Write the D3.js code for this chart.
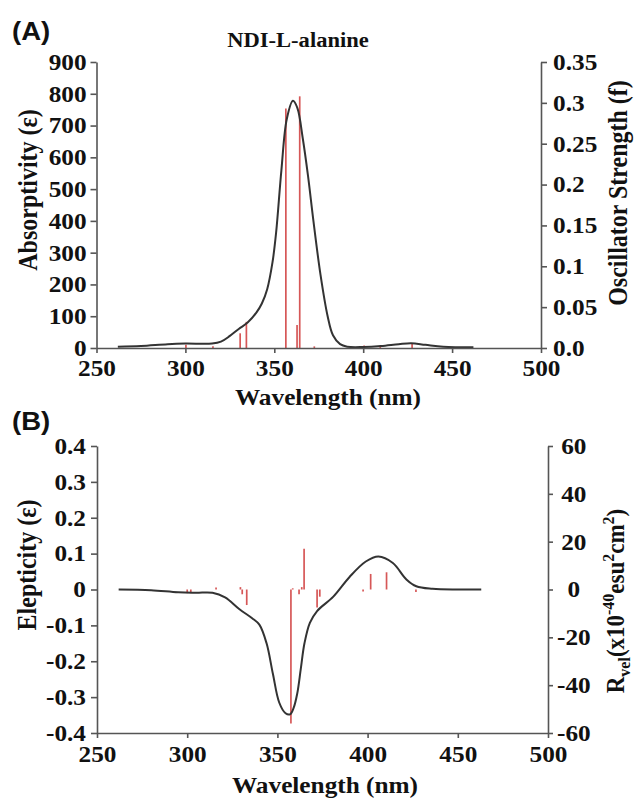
<html>
<head>
<style>
  body { margin: 0; background: #fff; }
  svg { display: block; }
  .lbl { font-family: "Liberation Serif", "Times New Roman", serif; font-weight: bold; fill: #111; }
</style>
<script src="https://cdnjs.cloudflare.com/ajax/libs/d3/7.8.5/d3.min.js"></script>
</head>
<body>
<script>
// ---- data ----
// (A) absorption spectrum, wavelength (nm) vs absorptivity
var absWl  = [262, 275, 290, 300, 315, 320, 325, 330, 335, 340, 343, 346, 349, 351, 354, 357, 360.5, 363, 366, 369, 372, 376, 380, 383, 387, 391, 400, 410, 420, 427, 435, 445, 462];
var absEps = [4, 6, 12, 14, 14, 20, 38, 60, 80, 112, 140, 185, 270, 362, 560, 720, 778, 755, 660, 540, 400, 230, 100, 40, 12, 4, 3, 6, 12, 15, 10, 4, 2];
// oscillator strengths (sticks)
var oscWl = [300.3, 315.5, 330.8, 334.3, 356.5, 362.8, 364.3, 372.5, 398.5, 400.5, 409.6, 427.5];
var oscF  = [0.004, 0.002, 0.018, 0.032, 0.293, 0.028, 0.308, 0.002, 0.002, 0.003, 0.003, 0.006];

// (B) CD spectrum, wavelength vs elepticity
var cdWl  = [262, 280, 295, 305, 314, 321, 329, 336, 340, 344, 347.5, 351, 354.5, 357, 359, 361, 363, 365, 368, 372, 381, 390, 399, 406, 414, 421.5, 427, 436, 450, 463];
var cdEps = [0, -0.002, -0.008, -0.009, -0.009, -0.022, -0.055, -0.08, -0.098, -0.15, -0.235, -0.315, -0.345, -0.348, -0.33, -0.29, -0.22, -0.15, -0.093, -0.06, -0.02, 0.035, 0.078, 0.092, 0.074, 0.028, 0.009, 0.002, 0, 0];
// rotatory strengths (sticks)
var rotWl = [300, 302, 316, 329.5, 330.5, 333, 357.5, 358.5, 362, 363.5, 364.8, 372, 373.5, 397.5, 401.7, 410.5, 426.8];
var rotR  = [-1.5, -1.5, 0.8, 1, -2, -6.5, -56, 0.5, -2, 1, 17, -7.5, -3, -0.8, 6.5, 7.2, -1];

// ticks
var wlTicks = [250, 300, 350, 400, 450, 500];
var absTicks = [0, 100, 200, 300, 400, 500, 600, 700, 800, 900];
var oscTicks = [0, 0.05, 0.1, 0.15, 0.2, 0.25, 0.3, 0.35];
var oscTickLabels = ["0.0", "0.05", "0.1", "0.15", "0.2", "0.25", "0.3", "0.35"];
var cdTicks = [-0.4, -0.3, -0.2, -0.1, 0, 0.1, 0.2, 0.3, 0.4];
var cdTickLabels = ["-0.4", "-0.3", "-0.2", "-0.1", "0", "0.1", "0.2", "0.3", "0.4"];
var rotTicks = [-60, -40, -20, 0, 20, 40, 60];
var rotTickLabels = ["-60", "-40", "-20", "0", "20", "40", "60"];

var width = 634, height = 798;
var sx = 1.1; // the picture is a bit stretched sideways
var serif = "'Liberation Serif', 'Times New Roman', serif";

var svg = d3.select("body").append("svg")
    .attr("width", width)
    .attr("height", height);

var lineColor = "#333", stickColor = "#cf3a3a";

// ================= panel A =================
var xA = d3.scaleLinear().domain([250, 500]).range([96.5, 541]);
var yA = d3.scaleLinear().domain([0, 900]).range([348, 62]);
var yA2 = d3.scaleLinear().domain([0, 0.35]).range([348, 62]);

var gA = svg.append("g");

gA.selectAll("line.stick")
    .data(oscWl)
    .enter().append("line")
    .attr("class", "stick")
    .attr("x1", d => xA(d)).attr("x2", d => xA(d))
    .attr("y1", yA2(0))
    .attr("y2", (d, i) => yA2(oscF[i]))
    .attr("stroke", stickColor)
    .attr("stroke-opacity", 0.85)
    .attr("stroke-width", 1.7);

var lineA = d3.line()
    .x((d, i) => xA(absWl[i]))
    .y(d => yA(d))
    .curve(d3.curveCatmullRom.alpha(0.5));

gA.append("path")
    .datum(absEps)
    .attr("d", lineA)
    .attr("fill", "none")
    .attr("stroke", lineColor)
    .attr("stroke-width", 2);

gA.append("g")
    .attr("transform", "translate(0," + yA(0) + ")")
    .call(d3.axisBottom(xA).tickValues(wlTicks).tickFormat(d3.format("d")).tickSize(5).tickSizeOuter(0).tickPadding(7));
gA.append("g")
    .attr("transform", "translate(" + xA(250) + ",0)")
    .call(d3.axisLeft(yA).tickValues(absTicks).tickFormat(d3.format("d")).tickSize(6).tickSizeOuter(0).tickPadding(3));
gA.append("g")
    .attr("transform", "translate(" + xA(500) + ",0)")
    .call(d3.axisRight(yA2).tickValues(oscTicks).tickFormat((d, i) => oscTickLabels[i]).tickSize(6).tickSizeOuter(0).tickPadding(5));

// ================= panel B =================
var xB = d3.scaleLinear().domain([250, 500]).range([97, 548]);
var yB = d3.scaleLinear().domain([-0.4, 0.4]).range([733, 446]);
var yB2 = d3.scaleLinear().domain([-60, 60]).range([733, 446]);

var gB = svg.append("g");

gB.selectAll("line.stick")
    .data(rotWl)
    .enter().append("line")
    .attr("class", "stick")
    .attr("x1", d => xB(d)).attr("x2", d => xB(d))
    .attr("y1", yB2(0))
    .attr("y2", (d, i) => yB2(rotR[i]))
    .attr("stroke", stickColor)
    .attr("stroke-opacity", 0.85)
    .attr("stroke-width", 1.7);

var lineB = d3.line()
    .x((d, i) => xB(cdWl[i]))
    .y(d => yB(d))
    .curve(d3.curveCatmullRom.alpha(0.5));

gB.append("path")
    .datum(cdEps)
    .attr("d", lineB)
    .attr("fill", "none")
    .attr("stroke", lineColor)
    .attr("stroke-width", 2);

gB.append("g")
    .attr("transform", "translate(0," + yB(-0.4) + ")")
    .call(d3.axisBottom(xB).tickValues(wlTicks).tickFormat(d3.format("d")).tickSize(5).tickSizeOuter(0).tickPadding(8));
gB.append("g")
    .attr("transform", "translate(" + xB(250) + ",0)")
    .call(d3.axisLeft(yB).tickValues(cdTicks).tickFormat((d, i) => cdTickLabels[i]).tickSize(6).tickSizeOuter(0).tickPadding(4));
var rB = gB.append("g")
    .attr("transform", "translate(" + xB(500) + ",0)")
    .call(d3.axisRight(yB2).tickValues(rotTicks).tickFormat((d, i) => rotTickLabels[i]).tickSize(5).tickSizeOuter(0));
rB.selectAll(".tick text").attr("text-anchor", "middle").attr("x", 23.5);

// common axis style
svg.selectAll(".tick text")
    .attr("font-size", 23)
    .style("font-family", serif)
    .style("font-weight", "bold")
    .style("fill", "#111")
    .attr("transform", "scale(" + sx + ",1)");
svg.selectAll(".domain").attr("stroke", "#555").attr("stroke-width", 1.6);
svg.selectAll(".tick line").attr("stroke", "#555").attr("stroke-width", 1.6);

// ================= texts =================
function hText(x, y, txt, size, family, anchor) {
    return svg.append("text")
        .attr("class", "lbl")
        .attr("transform", "translate(" + x + "," + y + ") scale(" + sx + ",1)")
        .attr("text-anchor", anchor || "middle")
        .attr("font-size", size)
        .style("font-family", family || serif)
        .text(txt);
}
function vText(x, y, size) {
    return svg.append("text")
        .attr("class", "lbl")
        .attr("transform", "translate(" + x + "," + y + ") scale(" + sx + ",1) rotate(-90)")
        .attr("text-anchor", "middle")
        .attr("font-size", size)
        .style("font-family", serif);
}

hText(12, 40, "(A)", 25, "'Liberation Sans', Arial, sans-serif", "start");
hText(12, 430, "(B)", 25, "'Liberation Sans', Arial, sans-serif", "start");
hText(298, 47, "NDI-L-alanine", 20.5);
hText(328, 405, "Wavelength (nm)", 23);
hText(325, 793, "Wavelength (nm)", 23);

vText(37, 190, 24).text("Absorptivity (\u03b5)");
vText(627, 193, 24).text("Oscillator Strength (f)");
vText(36, 565, 24).text("Elepticity (\u03b5)");

var rt = vText(624, 601, 23);
rt.append("tspan").text("R");
rt.append("tspan").attr("font-size", 16).attr("dy", 5).text("vel");
rt.append("tspan").attr("dy", -5).text("(x10");
rt.append("tspan").attr("font-size", 16).attr("dy", -9).text("-40");
rt.append("tspan").attr("dy", 9).text("esu");
rt.append("tspan").attr("font-size", 16).attr("dy", -9).text("2");
rt.append("tspan").attr("dy", 9).text("cm");
rt.append("tspan").attr("font-size", 16).attr("dy", -9).text("2");
rt.append("tspan").attr("dy", 9).text(")");
</script>
</body>
</html>
